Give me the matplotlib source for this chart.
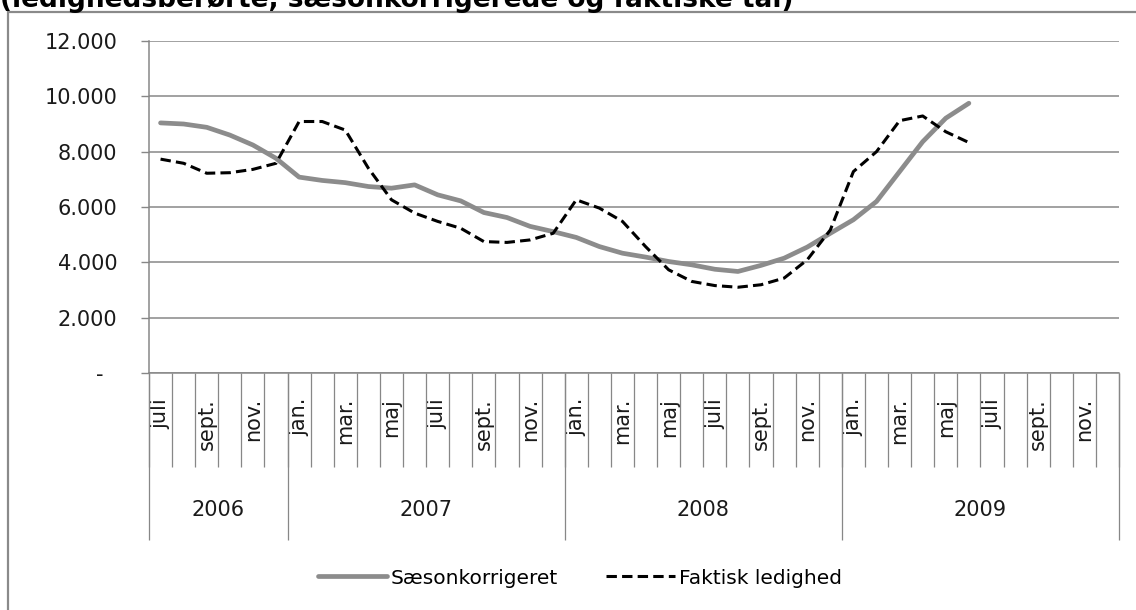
import matplotlib
matplotlib.use("Agg")
import matplotlib.pyplot as plt
import matplotlib.transforms as mtransforms
from matplotlib.patches import Rectangle

# data: monthly unemployment, July 2006 - June 2009 (axis runs to Dec 2009)
month_names = ["jan.", "feb.", "mar.", "april", "maj", "juni",
               "juli", "aug.", "sept.", "okt.", "nov.", "dec."]
years = ["2006", "2007", "2008", "2009"]
months_per_year = [6, 12, 12, 12]

saeson = [9040, 9000, 8880, 8600, 8240, 7760,
          7080, 6960, 6880, 6740, 6680, 6800, 6440, 6220, 5800, 5620, 5300, 5110,
          4900, 4570, 4330, 4190, 4030, 3910, 3750, 3670, 3890, 4150, 4550, 5050,
          5540, 6200, 7280, 8360, 9210, 9750]
faktisk = [7730, 7580, 7220, 7240, 7360, 7580,
           9090, 9090, 8780, 7400, 6260, 5780, 5480, 5230, 4750, 4720, 4810, 5050,
           6260, 5960, 5480, 4570, 3730, 3310, 3160, 3100, 3190, 3430, 4090, 5170,
           7280, 8000, 9120, 9290, 8720, 8330]

yticks = [0, 2000, 4000, 6000, 8000, 10000, 12000]
ytick_labels = ["-", "2.000", "4.000", "6.000", "8.000", "10.000", "12.000"]

# month label for every category, starting at July 2006
cat_months = [month_names[(6 + i) % 12] for i in range(sum(months_per_year))]
n_cat = len(cat_months)

W, H = 1136, 610
fig = plt.figure(figsize=(W / 100, H / 100), dpi=100)
plt.rcParams['font.family'] = ['DejaVu Sans']

# axes placed in pixels
left, right, top, bottom = 149, 1119, 41, 373
ax = fig.add_axes([left / W, 1 - bottom / H, (right - left) / W, (bottom - top) / H])

grid_c = "#878787"
x = [i + 0.5 for i in range(len(saeson))]
ax.plot(x, saeson, color="#8c8c8c", lw=3.4, solid_capstyle="round",
        label="Sæsonkorrigeret", zorder=3)
ax.plot(x, faktisk, color="black", lw=2.2, dashes=(3.4, 1.7),
        label="Faktisk ledighed", zorder=4)

ax.set_xlim(0, n_cat)
ax.set_ylim(0, 12000)
ax.set_yticks(yticks)
ax.set_yticklabels(ytick_labels, fontsize=15, color="#1a1a1a")
ax.yaxis.grid(True, color=grid_c, lw=1.1)
ax.set_axisbelow(True)
ax.tick_params(axis="y", length=5.8, width=1, color=grid_c, pad=17)
# the dash for zero sits a bit further left
dash = ax.get_yticklabels()[0]
dash.set_transform(dash.get_transform() +
                   mtransforms.ScaledTranslation(-14 / 100, 0, fig.dpi_scale_trans))

for s in ["top", "right"]:
    ax.spines[s].set_visible(False)
for s in ["left", "bottom"]:
    ax.spines[s].set_color(grid_c)
    ax.spines[s].set_linewidth(1.1)

# month separators (minor ticks) and labels on every second month
ax.set_xticks(range(n_cat + 1), minor=True)
ax.tick_params(axis="x", which="minor", length=94 * 0.72, width=0.9, color=grid_c)
ax.set_xticks([i + 0.5 for i in range(0, n_cat, 2)])
ax.set_xticklabels(cat_months[::2], rotation=90, fontsize=15, color="#1a1a1a")
ax.tick_params(axis="x", which="major", length=0, pad=25 * 0.72)

# year separators and labels
trans = ax.get_xaxis_transform()
ax_h = bottom - top
bounds = [0]
for m in months_per_year:
    bounds.append(bounds[-1] + m)
ax.vlines(bounds, (bottom - 540) / ax_h, 0, transform=trans, colors=grid_c,
          lw=0.9, clip_on=False)
for yr, a, b in zip(years, bounds[:-1], bounds[1:]):
    ax.text((a + b) / 2, (bottom - 510) / ax_h, yr, transform=trans,
            ha="center", va="center", fontsize=15, color="#1a1a1a")

# outer chart border (right and bottom edges fall outside the picture)
fig.patches.append(Rectangle((8 / W, -0.1), 1.2, 1 - 12 / H + 0.1,
                             transform=fig.transFigure, fill=False,
                             edgecolor="#8a8a8a", lw=1.6))

# title, cut off at the top of the picture
fig.text(0, 1 - 7 / H, "(ledighedsberørte, sæsonkorrigerede og faktiske tal)",
         fontsize=19, fontweight="bold", ha="left", va="baseline")

fig.legend(loc="center", bbox_to_anchor=(580 / W, 1 - 578 / H), ncol=2,
           frameon=False, fontsize=14.5, handlelength=3.4, handletextpad=0.2,
           columnspacing=2.4)

fig.savefig("out.png", dpi=100)
